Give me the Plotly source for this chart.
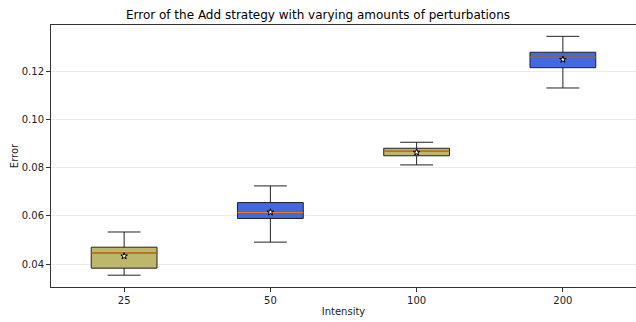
import plotly.graph_objects as go

categories = ["25", "50", "100", "200"]
q1 = [0.0383, 0.0589, 0.0849, 0.1214]
median = [0.0446, 0.0614, 0.0868, 0.1258]
q3 = [0.0470, 0.0655, 0.0880, 0.1278]
lower = [0.0354, 0.0491, 0.0811, 0.1130]
upper = [0.0533, 0.0724, 0.0905, 0.1344]
mean = [0.0433, 0.0615, 0.0863, 0.1248]
colors = ["#BDB76B", "#4169E1", "#BDB76B", "#4169E1"]

BW = 0.45
fig = go.Figure()
for i, c in enumerate(categories):
    fig.add_trace(go.Box(
        x=[i], q1=[q1[i]], median=[median[i]], q3=[q3[i]],
        lowerfence=[lower[i]], upperfence=[upper[i]],
        width=BW, whiskerwidth=0.5, fillcolor=colors[i],
        line=dict(color="#222222", width=1), boxpoints=False,
        showlegend=False, hoverinfo="skip"))
    fig.add_trace(go.Scatter(
        x=[i - BW / 2, i + BW / 2], y=[median[i], median[i]], mode="lines",
        line=dict(color="#ff7f0e", width=1), showlegend=False, hoverinfo="skip"))
fig.add_trace(go.Scatter(
    x=list(range(len(categories))), y=mean, mode="markers",
    marker=dict(symbol="star", size=5, color="white", line=dict(color="black", width=1)),
    showlegend=False, hoverinfo="skip"))

fig.update_layout(
    width=636, height=322,
    margin=dict(l=51, r=0, t=25, b=35),
    plot_bgcolor="white", paper_bgcolor="white",
    font=dict(family="DejaVu Sans", size=10, color="#222222"),
    title=dict(text="Error of the Add strategy with varying amounts of perturbations",
               x=0.5, xanchor="center", y=0.955, yanchor="middle",
               font=dict(size=12, color="black")),
    xaxis=dict(range=[-0.5, 3.5], tickmode="array", tickvals=list(range(len(categories))),
               ticktext=categories, showgrid=False, zeroline=False,
               showline=True, linecolor="#333333", linewidth=1, mirror=True,
               ticks="outside", ticklen=4, tickcolor="#333333",
               title=dict(text="Intensity", standoff=2, font=dict(size=10))),
    yaxis=dict(range=[0.0305, 0.1391], tickvals=[0.04, 0.06, 0.08, 0.10, 0.12],
               tickformat=".2f", showgrid=True, gridcolor="#ebebeb", gridwidth=1,
               zeroline=False, showline=True, linecolor="#333333", linewidth=1,
               ticks="outside", ticklen=4, tickcolor="#333333",
               title=dict(text="Error", standoff=1, font=dict(size=10))),
)
fig.write_html("out.html")
